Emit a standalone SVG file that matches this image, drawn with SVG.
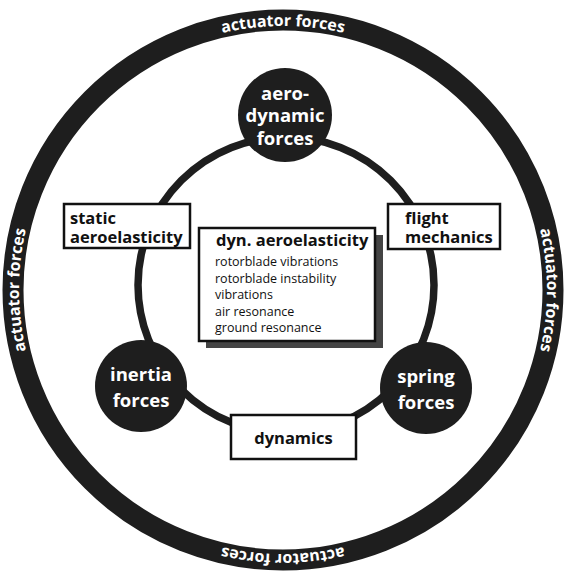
<svg xmlns="http://www.w3.org/2000/svg" width="566" height="572" viewBox="0 0 566 572">
<style>
.ring{fill:none;stroke:#1e1e1e}
.node{fill:#1e1e1e}
.nt{font-family:"Open Sans","DejaVu Sans",sans-serif;font-weight:bold;font-size:18.5px;fill:#fff;text-anchor:middle}
.box{fill:#fff;stroke:#111;stroke-width:2.5}
.bt{font-family:"Open Sans","DejaVu Sans",sans-serif;font-weight:bold;font-size:16.5px;fill:#111}
.lt{font-family:"Open Sans","DejaVu Sans",sans-serif;font-size:12.5px;fill:#111}
.at{font-family:"Open Sans","DejaVu Sans",sans-serif;font-weight:bold;font-size:16px;fill:#fff;text-anchor:middle}
</style>
<defs>
<path id="tp" d="M 96.3 103.3 A 264 264 0 1 1 469.7 476.7 A 264 264 0 1 1 96.3 103.3"/>
</defs>
<rect width="566" height="572" fill="#fff"/>
<g id="outer-ring">
<circle class="ring" cx="283" cy="290" r="270" stroke-width="21"/>
<text class="at"><textPath href="#tp" startOffset="12.5%">actuator forces</textPath></text>
<text class="at"><textPath href="#tp" startOffset="37.5%">actuator forces</textPath></text>
<text class="at"><textPath href="#tp" startOffset="62.5%">actuator forces</textPath></text>
<text class="at"><textPath href="#tp" startOffset="87.5%">actuator forces</textPath></text>
</g>
<g id="connectors">
<circle class="ring" cx="286" cy="285" r="148" stroke-width="7.5"/>
</g>
<g id="aero">
<circle class="node" cx="285" cy="115" r="47"/>
<text class="nt" x="285" y="100">aero-</text>
<text class="nt" x="285" y="122">dynamic</text>
<text class="nt" x="285" y="145">forces</text>
</g>
<g id="inertia">
<circle class="node" cx="141" cy="386" r="46"/>
<text class="nt" x="141" y="381">inertia</text>
<text class="nt" x="141" y="407">forces</text>
</g>
<g id="spring">
<circle class="node" cx="426" cy="388" r="46"/>
<text class="nt" x="426" y="383">spring</text>
<text class="nt" x="426" y="409">forces</text>
</g>
<g id="static">
<rect class="box" x="64" y="204" width="126" height="44"/>
<text class="bt" x="70" y="224">static</text>
<text class="bt" x="70" y="243">aeroelasticity</text>
</g>
<g id="flight">
<rect class="box" x="388" y="204" width="112" height="45"/>
<text class="bt" x="405" y="224">flight</text>
<text class="bt" x="405" y="243">mechanics</text>
</g>
<g id="dyn-aero">
<rect x="206" y="235" width="177" height="113" fill="#444"/>
<rect class="box" x="199" y="228" width="176" height="113"/>
<text class="bt" x="216" y="246" font-size="15">dyn. aeroelasticity</text>
<text class="lt" x="215" y="266">rotorblade vibrations</text>
<text class="lt" x="215" y="283">rotorblade instability</text>
<text class="lt" x="215" y="299">vibrations</text>
<text class="lt" x="215" y="316">air resonance</text>
<text class="lt" x="215" y="332">ground resonance</text>
</g>
<g id="dynamics">
<rect class="box" x="231" y="415" width="125" height="44"/>
<text class="bt" x="293.5" y="444" text-anchor="middle">dynamics</text>
</g>
</svg>
